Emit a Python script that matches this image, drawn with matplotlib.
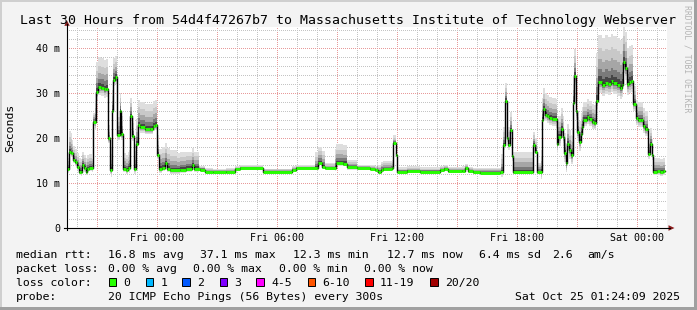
import numpy as np
import matplotlib
matplotlib.use("Agg")
import matplotlib.pyplot as plt
from matplotlib.patches import Rectangle, Polygon
from matplotlib.lines import Line2D
import matplotlib.transforms as mtransforms

# ---------------- data (hours since left edge of graph, values in ms) ----------------
title = "Last 30 Hours from 54d4f47267b7 to Massachusetts Institute of Technology Webserver"

tick_hours = [4.5, 10.5, 16.5, 22.5, 28.5]
tick_labels = ["Fri 00:00", "Fri 06:00", "Fri 12:00", "Fri 18:00", "Sat 00:00"]
ytick_vals = [0, 10, 20, 30, 40]
ytick_labels = ["0", "10 m", "20 m", "30 m", "40 m"]
y_top = 44.67
t_last = 29.9

med_t = [0.0, 0.1, 0.2, 0.3, 0.4, 0.5, 0.6, 0.7, 0.75, 0.85, 0.93, 1.0, 1.1, 1.28, 1.43,
         1.55, 1.7, 1.85, 1.95, 2.07, 2.15, 2.23, 2.32, 2.4, 2.52, 2.67, 2.72, 2.82, 2.95,
         3.05, 3.15, 3.23, 3.35, 3.45, 3.53, 3.65, 3.9, 4.15, 4.3, 4.4, 4.52, 4.6, 4.75,
         4.9, 5.0, 5.15, 5.65, 5.95, 6.23, 6.35, 6.65, 6.9, 7.3, 7.95, 8.4, 8.65, 9.82,
         11.23, 11.45, 12.48, 12.57, 12.73, 12.9, 13.45, 13.82, 13.98, 14.48, 15.15, 15.4,
         15.57, 15.7, 15.82, 16.23, 16.32, 16.45, 16.52, 17.0, 17.65, 18.65, 18.85, 19.05,
         19.75, 19.9, 20.05, 20.3, 20.65, 21.65, 21.78, 21.9, 21.98, 22.07, 22.15, 22.25,
         22.32, 23.32, 23.4, 23.48, 23.73, 23.82, 23.9, 24.0, 24.12, 24.25, 24.48, 24.57,
         24.7, 24.78, 24.85, 24.93, 25.02, 25.12, 25.2, 25.28, 25.35, 25.43, 25.52, 25.6,
         25.68, 25.75, 25.82, 25.98, 26.1, 26.23, 26.35, 26.45, 26.57, 26.73, 26.9, 27.07,
         27.18, 27.3, 27.48, 27.65, 27.73, 27.82, 27.9, 27.98, 28.12, 28.2, 28.32, 28.43,
         28.55, 28.68, 28.78, 28.9, 28.98, 29.07, 29.15, 29.23, 29.32, 29.5, 29.65, 29.82]
med_v = [13.1, 17.0, 16.6, 15.2, 14.6, 13.6, 12.5, 12.4, 14.0, 13.3, 12.5, 13.2, 13.4, 23.6, 30.3,
         31.4, 31.2, 30.8, 31.0, 19.9, 12.9, 25.9, 33.0, 33.5, 20.7, 25.9, 20.8, 13.1, 12.8,
         13.3, 24.9, 20.4, 13.1, 18.7, 22.9, 22.4, 22.0, 22.0, 22.7, 22.9, 16.2, 13.1, 13.4,
         14.4, 13.2, 12.8, 13.0, 13.2, 14.0, 13.2, 13.0, 12.5, 12.4, 12.5, 13.1, 13.3, 12.5,
         13.0, 13.3, 13.3, 14.5, 13.6, 13.3, 14.4, 14.3, 13.5, 13.3, 13.1, 12.9,
         12.5, 13.0, 13.2, 13.3, 18.8, 16.2, 12.5, 12.7, 12.5, 12.8, 13.1, 12.6,
         12.7, 13.3, 12.6, 12.4, 12.3, 12.4, 18.4, 28.3, 20.1, 18.4, 21.8, 16.0,
         12.4, 18.4, 17.0, 12.5, 24.0, 26.4, 25.2, 24.8, 24.4, 24.2, 18.7, 20.3,
         22.1, 20.3, 16.7, 14.4, 18.7, 17.3, 16.2, 27.7, 33.8, 25.9, 21.4, 19.2,
         21.0, 22.5, 24.1, 24.6, 24.2, 23.6, 23.4, 28.3, 32.5, 31.8, 32.3, 32.0,
         32.7, 32.2, 31.8, 31.2, 31.7, 37.0, 35.5, 32.0, 32.5, 32.7, 27.6, 24.4,
         24.0, 24.0, 22.7, 21.9, 22.0, 16.4, 18.7, 16.2, 12.5, 12.6, 12.4, 12.6]

# smoke spread (ms above / below the median), starting at each smk_t
smk_t = [0.0, 0.08, 0.25, 1.25, 1.4, 2.07, 2.2, 2.52, 2.82, 3.1, 3.45, 4.5, 5.5, 6.6, 8.4,
         9.8, 12.4, 12.9, 13.4, 14.0, 14.5, 15.5, 16.2, 16.5, 21.7, 22.3, 23.3, 23.5, 23.7,
         24.45, 25.25, 25.5, 25.8, 26.45, 27.8, 28.3, 29.05, 29.3]
smk_up = [3.5, 4.5, 3.0, 2.0, 6.5, 3.0, 4.8, 4.0, 3.5, 4.0, 5.5, 4.5, 3.8, 0.8, 0.6,
          0.7, 3.5, 1.2, 4.2, 1.6, 0.8, 1.6, 1.8, 1.0, 4.0, 4.5, 3.0, 2.0, 4.8,
          4.5, 6.0, 4.5, 4.0, 10.5, 8.0, 4.0, 3.5, 3.0]
smk_dn = [0.8, 0.8, 0.8, 1.0, 1.8, 1.0, 1.5, 1.2, 0.7, 1.0, 1.2, 0.8, 0.7, 0.3, 0.3,
          0.3, 0.5, 0.4, 0.6, 0.5, 0.3, 0.4, 0.4, 0.3, 1.0, 0.5, 0.6, 0.5, 1.5,
          2.0, 2.0, 2.0, 1.5, 2.5, 2.5, 1.5, 1.0, 0.8]

legend_rows = [
    [("median rtt:", 16), ("16.8 ms avg", 107.5), ("37.1 ms max", 200), ("12.3 ms min", 293),
     ("12.7 ms now", 386.5), ("6.4 ms sd", 479), ("2.6", 552), ("am/s", 587.5)],
    [("packet loss:", 16), ("0.00 % avg", 107.5), ("0.00 % max", 193.3), ("0.00 % min", 279),
     ("0.00 % now", 364.5)],
    [("loss color:", 16)],
    [("probe:", 16), ("20 ICMP Echo Pings (56 Bytes) every 300s", 107.5)],
]
loss_labels = ["0", "1", "2", "3", "4-5", "6-10", "11-19", "20/20"]
loss_colors = ["#26ff00", "#00b8ff", "#0059ff", "#7e00ff", "#ff00ff", "#ff5500", "#ff0000", "#a10000"]
loss_box_x = [108.5, 145.8, 182.4, 219.5, 256.3, 307.5, 365.3, 430.0]
stamp = "Sat Oct 25 01:24:09 2025"

# ---------------- figure ----------------
W, H = 697, 310
MONO = "DejaVu Sans Mono"
plt.rcParams["font.family"] = [MONO, "DejaVu Sans"]
fig = plt.figure(figsize=(W / 100, H / 100), dpi=100, facecolor="#f3f3f3")


def fx(x):
    return x / W


def fy(y):
    return 1 - y / H


# frame shading
fig.add_artist(Rectangle((0, fy(2)), 1, 2 / H, transform=fig.transFigure, color="#cfcfcf", lw=0))
fig.add_artist(Rectangle((0, 0), 2 / W, 1, transform=fig.transFigure, color="#cfcfcf", lw=0))
fig.add_artist(Rectangle((0, 0), 1, 3 / H, transform=fig.transFigure, color="#a0a0a0", lw=0))
fig.add_artist(Rectangle((fx(694), 0), 3 / W, 1, transform=fig.transFigure, color="#a0a0a0", lw=0))

ax = fig.add_axes([fx(67), fy(228), 600 / W, 201 / H])
ax.set_facecolor("white")
ax.set_xlim(0, 30)
ax.set_ylim(0, y_top)
for s in ax.spines.values():
    s.set_visible(False)
ax.set_xticks([])
ax.set_yticks([])

# grid (dotted, crisp)
dot = (0, (1, 1.4))
for h in np.arange(0.5, 30, 1.0):
    major = abs(((h - 1.5) / 3.0) - round((h - 1.5) / 3.0)) < 1e-6
    ax.axvline(h, color="#e89a9a" if major else "#c4c4c4", lw=0.72, ls=dot, zorder=1,
               antialiased=False)
for v in np.arange(2, y_top, 2):
    major = abs(v % 10) < 1e-6
    ax.axhline(v, color="#e89a9a" if major else "#c4c4c4", lw=0.72, ls=dot, zorder=1,
               antialiased=False)

# smoke
med_t_a = np.asarray(med_t)
med_v_a = np.asarray(med_v)
grid_t = np.unique(np.concatenate([med_t, smk_t, [t_last]]))
im = np.searchsorted(med_t_a, grid_t, side="right") - 1
isk = np.searchsorted(np.asarray(smk_t), grid_t, side="right") - 1
m = med_v_a[im]
up = np.asarray(smk_up)[isk]
dn = np.asarray(smk_dn)[isk]
layers = [(1.0, "#dedede"), (0.72, "#c8c8c8"), (0.48, "#a6a6a6"), (0.28, "#7a7a7a"), (0.13, "#464646")]
for f, c in layers:
    ax.fill_between(grid_t, m - dn * f, m + up * f, step="post", color=c, lw=0, zorder=3)

# median line
T = np.append(med_t_a, t_last)
V = np.append(med_v_a, med_v_a[-1])
ax.step(T, V, where="post", color="black", lw=1.0, zorder=5)
ax.hlines(med_v_a, T[:-1], T[1:], color="#26ff00", lw=2.1, zorder=6, capstyle="butt")

# axis lines + arrows
fig.add_artist(Line2D([fx(67), fx(67)], [fy(230), fy(24)], transform=fig.transFigure, color="#000000", lw=0.8))
fig.add_artist(Line2D([fx(64), fx(670)], [fy(228), fy(228)], transform=fig.transFigure, color="#000000", lw=0.8))
fig.add_artist(Polygon([[fx(67), fy(20.5)], [fx(64.3), fy(25.8)], [fx(69.7), fy(25.8)]],
                       closed=True, transform=fig.transFigure, color="#8b1c1c", lw=0))
fig.add_artist(Polygon([[fx(674.5), fy(228)], [fx(668.5), fy(225.2)], [fx(668.5), fy(230.8)]],
                       closed=True, transform=fig.transFigure, color="#8b1c1c", lw=0))

# tick labels
trans_x = mtransforms.blended_transform_factory(ax.transData, ax.transAxes)
for h, lab in zip(tick_hours, tick_labels):
    ax.text(h, -(240.7 - 228) / 201, lab, transform=trans_x, ha="center", va="baseline",
            fontsize=7.2, family=MONO, color="#000000", clip_on=False)
trans_y = mtransforms.blended_transform_factory(ax.transAxes, ax.transData)
for v, lab in zip(ytick_vals, ytick_labels):
    ax.text(-7 / 600, v, lab, transform=trans_y, ha="right", va="center_baseline",
            fontsize=7.2, family=MONO, color="#000000", clip_on=False)

# texts
fig.text(0.5, fy(24), title, ha="center", va="baseline", fontsize=9.5, family=MONO, color="#000000")
fig.text(fx(10), fy(128), "Seconds", rotation=90, ha="center", va="center", fontsize=8.25,
         family=MONO, color="#000000")
fig.text(fx(687), fy(5), "RRDTOOL / TOBI OETIKER", rotation=270, ha="center", va="top",
         fontsize=5.9, family=MONO, color="#b4b4b4")

baselines = [258, 272, 286, 300]
for row, base in zip(legend_rows, baselines):
    for s, x in row:
        fig.text(fx(x), fy(base), s, ha="left", va="baseline", fontsize=8.25, family=MONO, color="#000000")
for lab, col, bx in zip(loss_labels, loss_colors, loss_box_x):
    fig.add_artist(Rectangle((fx(bx), fy(286.3)), 7.5 / W, 8 / H, transform=fig.transFigure,
                             facecolor=col, edgecolor="#000000", lw=0.7))
    fig.text(fx(bx + 14.8), fy(286), lab, ha="left", va="baseline", fontsize=8.25, family=MONO, color="#000000")
fig.text(fx(680), fy(300), stamp, ha="right", va="baseline", fontsize=8.25, family=MONO, color="#000000")

fig.savefig("out.png", dpi=100, facecolor=fig.get_facecolor())
